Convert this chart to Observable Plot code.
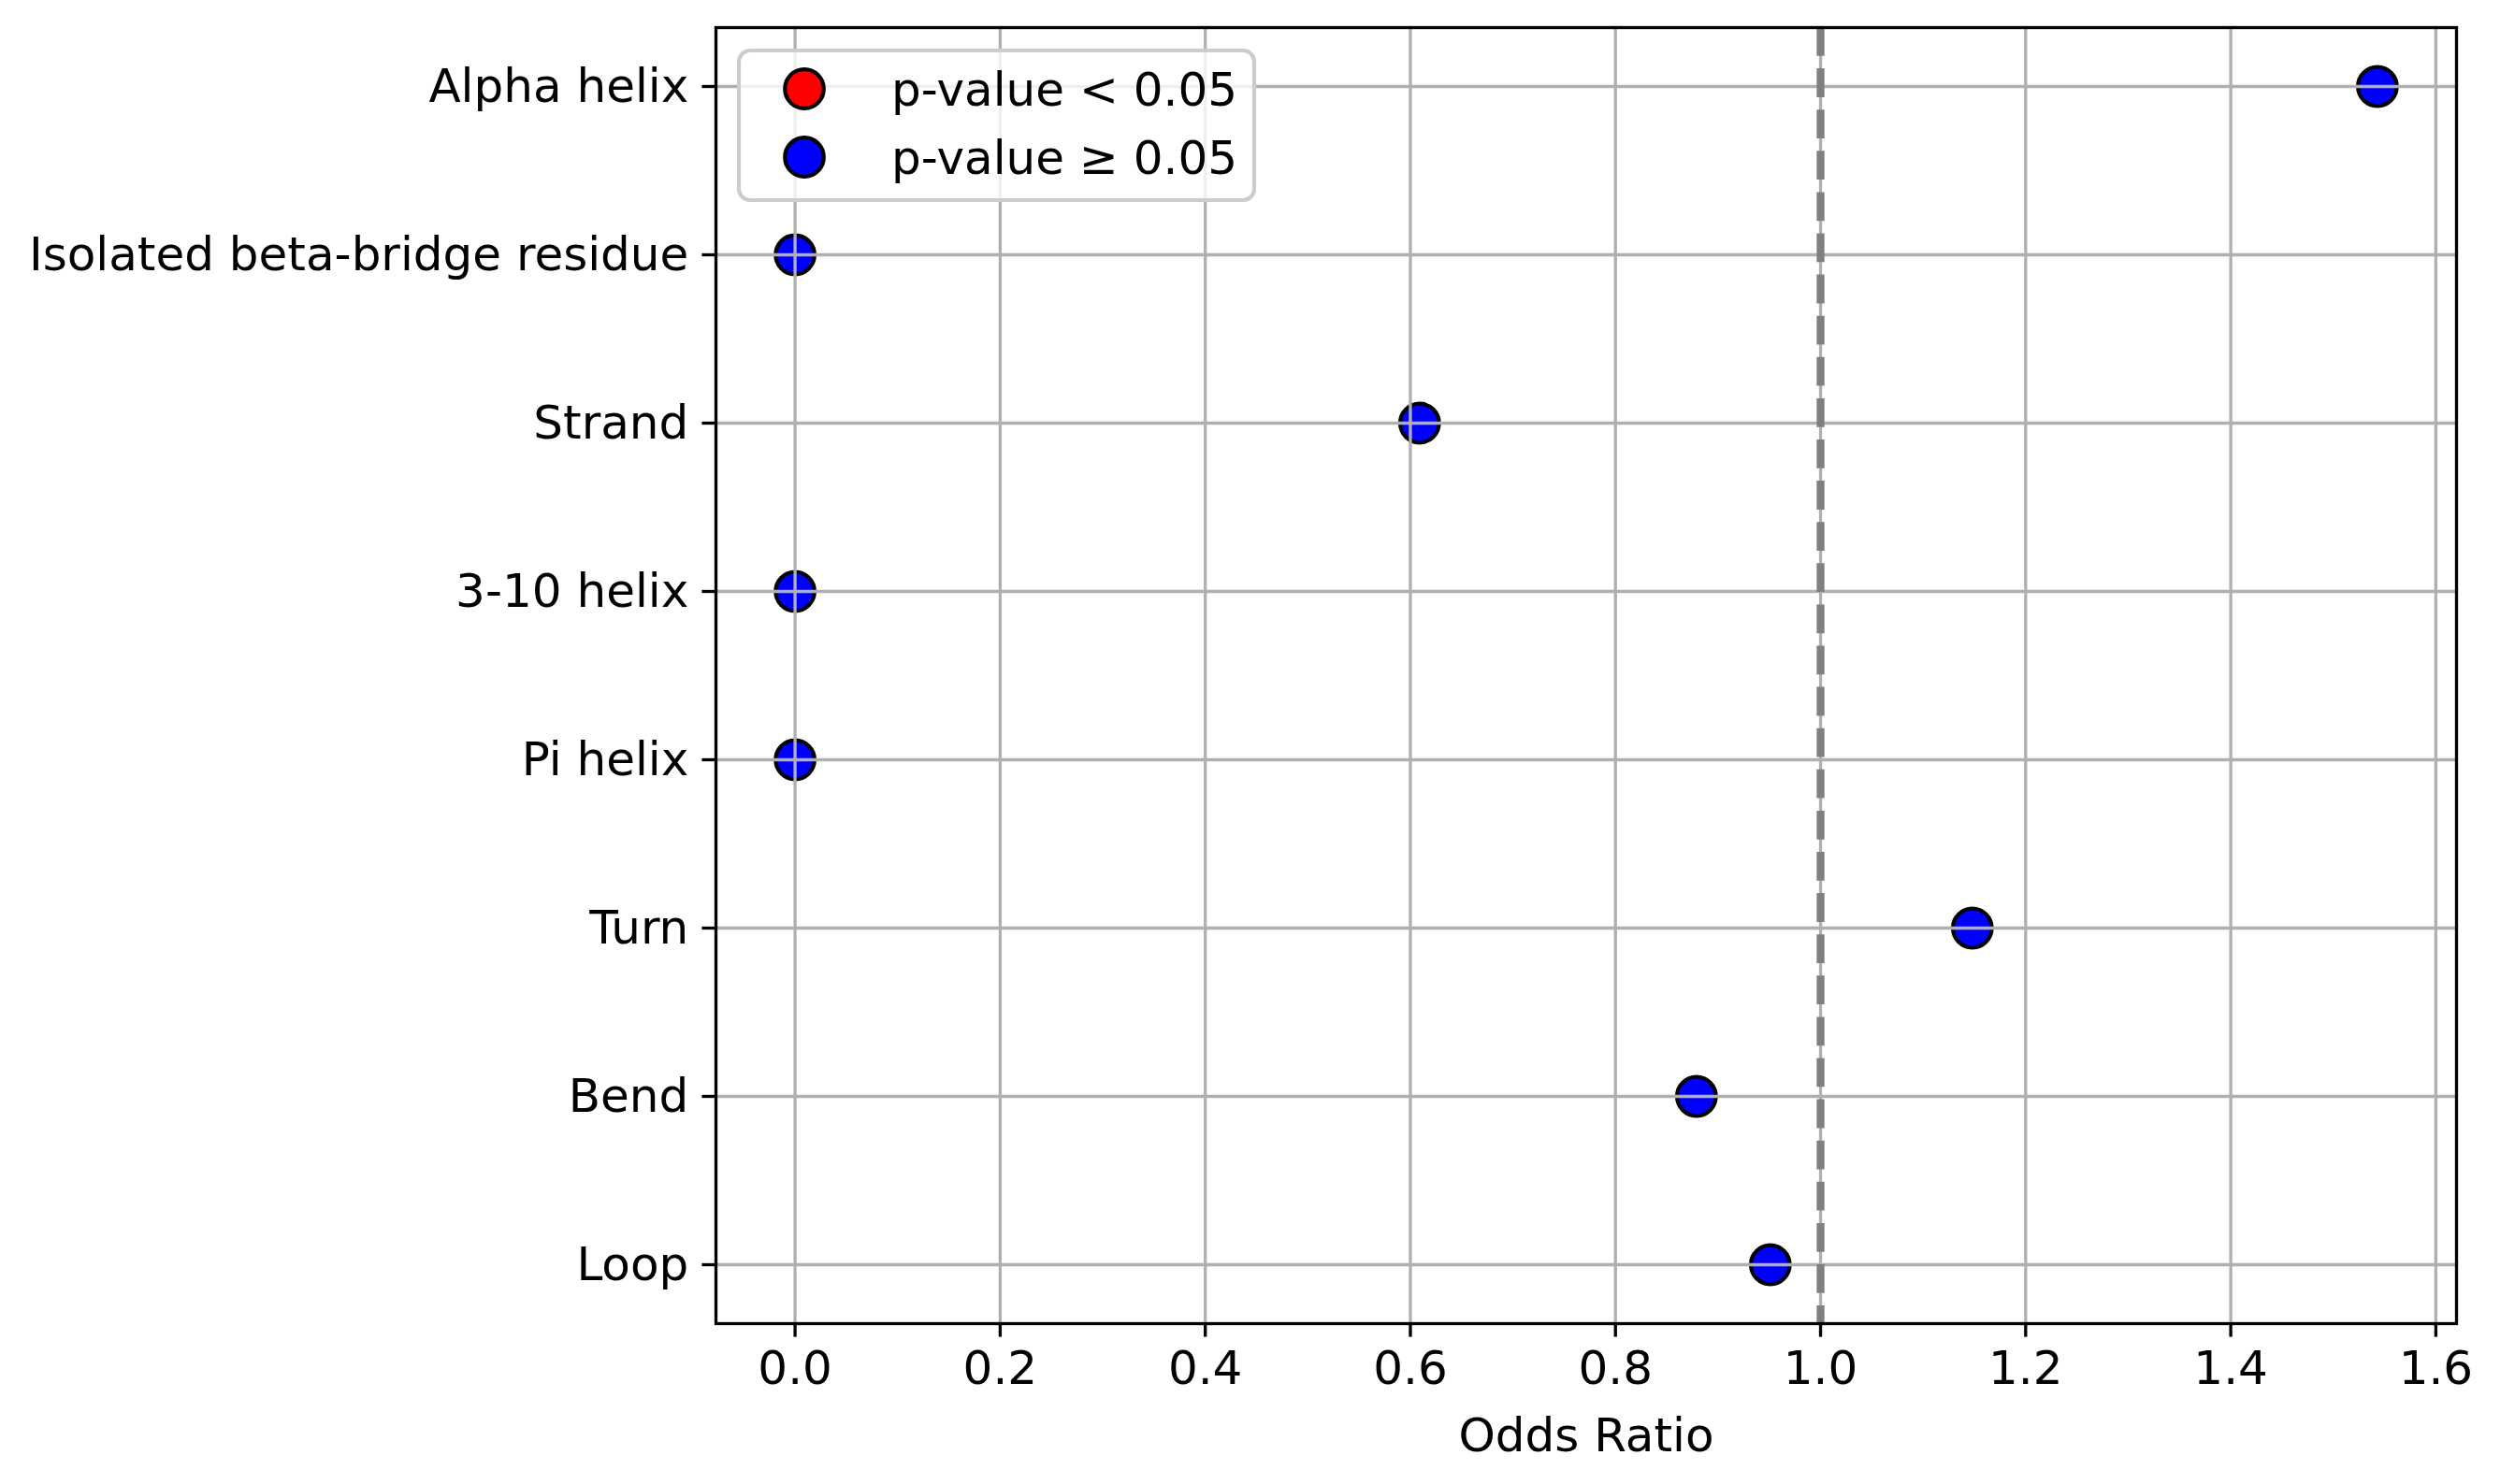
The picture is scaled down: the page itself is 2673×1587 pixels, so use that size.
<!DOCTYPE html>
<html>
<head>
<meta charset="utf-8">
<script src="https://cdn.jsdelivr.net/npm/d3@7"></script>
<script src="https://cdn.jsdelivr.net/npm/@observablehq/plot@0.6"></script>
<style>
  html, body { margin: 0; padding: 0; background: #fff; overflow: hidden; }
  #wrap { position: relative; width: 2673px; height: 1587px; }
  #wrap > svg { position: absolute; left: 0; top: 0; }
</style>
</head>
<body>
<div id="wrap"></div>
<script>
const categories = ["Alpha helix", "Isolated beta-bridge residue", "Strand", "3-10 helix", "Pi helix", "Turn", "Bend", "Loop"];
const oddsRatios = [1.543, 0, 0.609, 0, 0, 1.148, 0.879, 0.951];
const significant = [false, false, false, false, false, false, false, false];
const xTicks = [0, 0.2, 0.4, 0.6, 0.8, 1.0, 1.2, 1.4, 1.6];
const legendLabels = ["p-value < 0.05", "p-value \u2265 0.05"];
const legendColors = ["red", "blue"];
const referenceLine = [1];
const xLabel = "Odds Ratio";

const data = categories.map((c, i) => ({
  category: c,
  or: oddsRatios[i],
  group: significant[i] ? legendLabels[0] : legendLabels[1]
}));

const xmin = Math.min(...oddsRatios), xmax = Math.max(...oddsRatios);
const pad = (xmax - xmin) * 0.05;

const W = 2673, H = 1587;
const mL = 765, mR = 47, mT = 29, mB = 172;
const FONT = "DejaVu Sans";
const LW = 3.33;

const plot = Plot.plot({
  width: W,
  height: H,
  marginLeft: mL,
  marginRight: mR,
  marginTop: mT,
  marginBottom: mB,
  style: { fontFamily: FONT, fontSize: "50px", color: "black", background: "white" },
  x: { domain: [xmin - pad, xmax + pad], label: null },
  y: { type: "point", domain: categories, padding: 0.35, label: null },
  color: { domain: legendLabels, range: legendColors },
  marks: [
    Plot.dot(data, { x: "or", y: "category", r: 20.8, fill: "group", stroke: "black", strokeWidth: 4.17 }),
    Plot.gridX(xTicks, { stroke: "#b0b0b0", strokeOpacity: 1, strokeWidth: LW }),
    Plot.gridY(categories, { stroke: "#b0b0b0", strokeOpacity: 1, strokeWidth: LW }),
    Plot.ruleX(referenceLine, { stroke: "gray", strokeWidth: 8.33, strokeDasharray: "30.8 13.3" }),
    Plot.frame({ stroke: "black", strokeWidth: LW }),
    Plot.axisX(xTicks, { tickFormat: d3.format(".1f"), tickSize: 14.6, tickPadding: 14.6, stroke: "black", strokeWidth: LW, fontSize: 50, label: null }),
    Plot.axisY({ tickSize: 14.6, tickPadding: 14.6, stroke: "black", strokeWidth: LW, fontSize: 50, label: null }),
    Plot.text([xLabel], { frameAnchor: "bottom", lineAnchor: "middle", dy: 120, fontSize: 50, fill: "black" })
  ]
});

document.getElementById("wrap").appendChild(plot);

// Legend overlay (upper-left inside the axes)
const color = plot.scale("color");
const leg = d3.select("#wrap").append("svg")
  .attr("width", W).attr("height", H)
  .style("pointer-events", "none");
const bx = 790, by = 54, bw = 551, bh = 160;
leg.append("rect")
  .attr("x", bx).attr("y", by).attr("width", bw).attr("height", bh)
  .attr("rx", 12).attr("ry", 12)
  .attr("fill", "white").attr("fill-opacity", 0.8)
  .attr("stroke", "#cccccc").attr("stroke-width", 4.17);
const rows = leg.selectAll("g.row").data(color.domain).join("g")
  .attr("class", "row")
  .attr("transform", (d, i) => `translate(0, ${95 + i * 73})`);
rows.append("circle")
  .attr("cx", 860).attr("cy", 0).attr("r", 20.8)
  .attr("fill", d => color.apply(d))
  .attr("stroke", "black").attr("stroke-width", 4.17);
rows.append("text")
  .attr("x", 953).attr("y", 18.2)
  .attr("font-family", FONT).attr("font-size", 50)
  .attr("fill", "black")
  .text(d => d);
</script>
</body>
</html>
